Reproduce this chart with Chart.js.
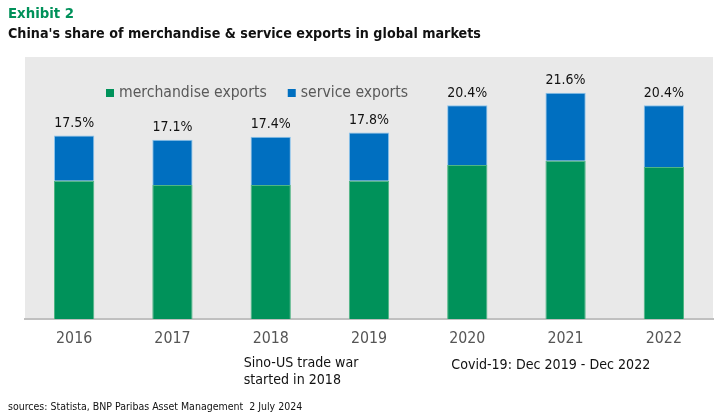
<!DOCTYPE html>
<html>
<head>
<meta charset="utf-8">
<script src="https://cdn.jsdelivr.net/npm/chart.js@4.4.1/dist/chart.umd.min.js"></script>
<style>
  html, body { margin: 0; padding: 0; background: #fff; }
  #wrap { position: relative; width: 725px; height: 419px; overflow: hidden; }
  #myChart { position: absolute; left: 0; top: 0; }
  .txt { position: absolute; white-space: nowrap; line-height: 1; font-family: "Liberation Sans Narrow", "DejaVu Sans Condensed", sans-serif; }
  #exhibit { left: 8px; top: 6px; font-size: 14.8px; font-weight: bold; color: #00915a; }
  #title { left: 8px; top: 26px; font-size: 14.2px; font-weight: bold; color: #111; }
  #source { left: 8px; top: 401px; font-size: 10.5px; color: #111; }
</style>
</head>
<body>
<div id="wrap">
  <canvas id="myChart" width="725" height="419"></canvas>
  <div class="txt" id="exhibit">Exhibit 2</div>
  <div class="txt" id="title">China's share of merchandise &amp; service exports in global markets</div>
  <div class="txt" id="source">sources: Statista, BNP Paribas Asset Management&nbsp; 2 July 2024</div>
</div>
<script>
const years = ['2016', '2017', '2018', '2019', '2020', '2021', '2022'];
const merchandise = [13.2, 12.8, 12.8, 13.2, 14.7, 15.1, 14.5];
const service = [4.3, 4.3, 4.6, 4.6, 5.7, 6.5, 5.9];
const totals = [17.5, 17.1, 17.4, 17.8, 20.4, 21.6, 20.4];
const notes = [
    { year: '2018', lines: ['Sino-US trade war', 'started in 2018'], dx: -27, dy: 48 },
    { year: '2020', lines: ['Covid-19: Dec 2019 - Dec 2022'], dx: -16, dy: 50 }
];

const FONT = '"Liberation Sans Narrow", "DejaVu Sans Condensed", sans-serif';

// gray plot background
const bgPlugin = {
    id: 'bg',
    beforeDraw(chart) {
        const { ctx, chartArea: a } = chart;
        ctx.save();
        ctx.fillStyle = '#e9e9e9';
        ctx.fillRect(a.left, a.top, a.right - a.left, a.bottom - a.top);
        ctx.restore();
    }
};

// totals on top, legend inside the plot, notes under the axis
const labelPlugin = {
    id: 'labels',
    afterDatasetsDraw(chart) {
        const ctx = chart.ctx;
        const a = chart.chartArea;
        const top = chart.getDatasetMeta(1).data;
        ctx.save();
        ctx.font = '14px ' + FONT;
        ctx.fillStyle = '#111';
        ctx.textAlign = 'center';
        ctx.textBaseline = 'alphabetic';
        top.forEach((bar, i) => {
            ctx.fillText(totals[i].toFixed(1) + '%', bar.x, bar.y - 8.5);
        });

        // legend
        ctx.font = '15.6px ' + FONT;
        ctx.textAlign = 'left';
        let x = a.left + 81;
        const y = a.top + 40;
        chart.data.datasets.forEach((ds) => {
            ctx.fillStyle = ds.backgroundColor;
            ctx.fillRect(x, y - 8, 8, 8);
            x += 13;
            ctx.fillStyle = '#595959';
            ctx.fillText(ds.label, x, y);
            x += ctx.measureText(ds.label).width + 21;
        });

        // notes
        const xs = chart.scales.x;
        ctx.font = '14.1px ' + FONT;
        ctx.fillStyle = '#111';
        notes.forEach((n) => {
            const nx = xs.getPixelForValue(years.indexOf(n.year)) + n.dx;
            n.lines.forEach((line, j) => {
                ctx.fillText(line, nx, a.bottom + n.dy + j * 16.5);
            });
        });
        ctx.restore();
    }
};

const data = {
    labels: years,
    datasets: [{
        label: 'merchandise exports',
        data: merchandise,
        backgroundColor: '#00925a',
        borderColor: '#4fb584',
        borderWidth: { left: 1, right: 1, top: 1 },
        barPercentage: 0.41,
        categoryPercentage: 1
    }, {
        label: 'service exports',
        data: service,
        backgroundColor: '#006fc0',
        borderColor: '#8cc4ec',
        borderWidth: { left: 1, right: 1, top: 1 },
        barPercentage: 0.41,
        categoryPercentage: 1
    }]
};

const config = {
    type: 'bar',
    data: data,
    options: {
        responsive: false,
        animation: false,
        layout: {
            padding: { left: 25, right: 12, top: 57, bottom: 61 }
        },
        plugins: {
            legend: { display: false },
            tooltip: { enabled: false }
        },
        scales: {
            x: {
                stacked: true,
                grid: { display: false, drawTicks: false },
                border: { display: true, color: '#c0c0c0', width: 2 },
                ticks: {
                    color: '#555555',
                    padding: 10,
                    font: { family: FONT, size: 15.8 }
                }
            },
            y: {
                stacked: true,
                display: false,
                min: 0,
                max: 25
            }
        }
    },
    plugins: [bgPlugin, labelPlugin]
};

var myChart = new Chart(document.getElementById('myChart'), config);
</script>
</body>
</html>
